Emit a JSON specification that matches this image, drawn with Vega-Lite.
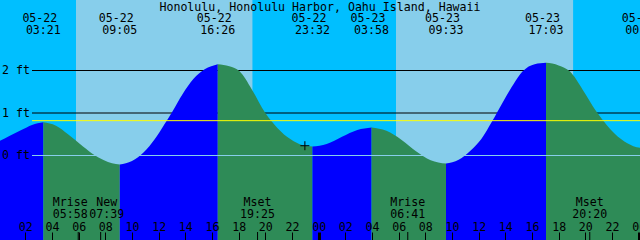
{
  "$schema": "https://vega.github.io/schema/vega-lite/v6.json",
  "width": 640,
  "height": 240,
  "padding": 0,
  "autosize": {"type": "none"},
  "background": "#00BFFF",
  "config": {"view": {"stroke": null}, "axis": {"labelOverlap": false}},
  "title": {
    "text": "Honolulu, Honolulu Harbor, Oahu Island, Hawaii",
    "orient": "top",
    "anchor": "middle",
    "frame": "group",
    "offset": -23,
    "baseline": "alphabetic",
    "font": "DejaVu Sans Mono",
    "fontSize": 11.6,
    "fontWeight": "normal",
    "color": "black"
  },
  "datasets": {
    "bands": [
      {"start": "2020-05-22T00:00:00Z", "end": "2020-05-22T05:48:00Z", "period": "night"},
      {"start": "2020-05-22T05:48:00Z", "end": "2020-05-22T19:03:00Z", "period": "day"},
      {"start": "2020-05-22T19:03:00Z", "end": "2020-05-23T05:48:00Z", "period": "night"},
      {"start": "2020-05-23T05:48:00Z", "end": "2020-05-23T19:06:00Z", "period": "day"},
      {"start": "2020-05-23T19:06:00Z", "end": "2020-05-24T00:30:00Z", "period": "night"}
    ],
    "levels": [
      {"level": 2, "kind": "grid"},
      {"level": 1, "kind": "grid"},
      {"level": 0.82, "kind": "msl"},
      {"level": 0, "kind": "datum"}
    ],
    "tide": [
      {"time": "2020-05-22T00:00:00Z", "height": 0.33, "segment": "s0", "phase": "rising"},
      {"time": "2020-05-22T00:48:00Z", "height": 0.46, "segment": "s0", "phase": "rising"},
      {"time": "2020-05-22T01:42:00Z", "height": 0.60, "segment": "s0", "phase": "rising"},
      {"time": "2020-05-22T02:30:00Z", "height": 0.72, "segment": "s0", "phase": "rising"},
      {"time": "2020-05-22T03:21:00Z", "height": 0.78, "segment": "s0", "phase": "rising"},
      {"time": "2020-05-22T03:21:00Z", "height": 0.78, "segment": "s1", "phase": "falling"},
      {"time": "2020-05-22T04:18:00Z", "height": 0.70, "segment": "s1", "phase": "falling"},
      {"time": "2020-05-22T05:12:00Z", "height": 0.50, "segment": "s1", "phase": "falling"},
      {"time": "2020-05-22T06:06:00Z", "height": 0.27, "segment": "s1", "phase": "falling"},
      {"time": "2020-05-22T07:00:00Z", "height": 0.05, "segment": "s1", "phase": "falling"},
      {"time": "2020-05-22T07:54:00Z", "height": -0.11, "segment": "s1", "phase": "falling"},
      {"time": "2020-05-22T08:30:00Z", "height": -0.18, "segment": "s1", "phase": "falling"},
      {"time": "2020-05-22T09:05:00Z", "height": -0.21, "segment": "s1", "phase": "falling"},
      {"time": "2020-05-22T09:05:00Z", "height": -0.21, "segment": "s2", "phase": "rising"},
      {"time": "2020-05-22T10:00:00Z", "height": -0.13, "segment": "s2", "phase": "rising"},
      {"time": "2020-05-22T10:54:00Z", "height": 0.08, "segment": "s2", "phase": "rising"},
      {"time": "2020-05-22T11:42:00Z", "height": 0.38, "segment": "s2", "phase": "rising"},
      {"time": "2020-05-22T12:24:00Z", "height": 0.72, "segment": "s2", "phase": "rising"},
      {"time": "2020-05-22T13:00:00Z", "height": 1.02, "segment": "s2", "phase": "rising"},
      {"time": "2020-05-22T13:48:00Z", "height": 1.45, "segment": "s2", "phase": "rising"},
      {"time": "2020-05-22T14:36:00Z", "height": 1.80, "segment": "s2", "phase": "rising"},
      {"time": "2020-05-22T15:27:00Z", "height": 2.03, "segment": "s2", "phase": "rising"},
      {"time": "2020-05-22T16:26:00Z", "height": 2.15, "segment": "s2", "phase": "rising"},
      {"time": "2020-05-22T16:26:00Z", "height": 2.15, "segment": "s3", "phase": "falling"},
      {"time": "2020-05-22T17:18:00Z", "height": 2.10, "segment": "s3", "phase": "falling"},
      {"time": "2020-05-22T18:04:00Z", "height": 1.98, "segment": "s3", "phase": "falling"},
      {"time": "2020-05-22T19:00:00Z", "height": 1.55, "segment": "s3", "phase": "falling"},
      {"time": "2020-05-22T20:00:00Z", "height": 1.00, "segment": "s3", "phase": "falling"},
      {"time": "2020-05-22T20:54:00Z", "height": 0.65, "segment": "s3", "phase": "falling"},
      {"time": "2020-05-22T21:54:00Z", "height": 0.38, "segment": "s3", "phase": "falling"},
      {"time": "2020-05-22T22:48:00Z", "height": 0.24, "segment": "s3", "phase": "falling"},
      {"time": "2020-05-22T23:32:00Z", "height": 0.21, "segment": "s3", "phase": "falling"},
      {"time": "2020-05-22T23:32:00Z", "height": 0.21, "segment": "s4", "phase": "rising"},
      {"time": "2020-05-23T00:36:00Z", "height": 0.27, "segment": "s4", "phase": "rising"},
      {"time": "2020-05-23T01:45:00Z", "height": 0.44, "segment": "s4", "phase": "rising"},
      {"time": "2020-05-23T02:54:00Z", "height": 0.60, "segment": "s4", "phase": "rising"},
      {"time": "2020-05-23T03:58:00Z", "height": 0.66, "segment": "s4", "phase": "rising"},
      {"time": "2020-05-23T03:58:00Z", "height": 0.66, "segment": "s5", "phase": "falling"},
      {"time": "2020-05-23T05:05:00Z", "height": 0.58, "segment": "s5", "phase": "falling"},
      {"time": "2020-05-23T06:12:00Z", "height": 0.37, "segment": "s5", "phase": "falling"},
      {"time": "2020-05-23T07:18:00Z", "height": 0.10, "segment": "s5", "phase": "falling"},
      {"time": "2020-05-23T08:24:00Z", "height": -0.11, "segment": "s5", "phase": "falling"},
      {"time": "2020-05-23T09:33:00Z", "height": -0.19, "segment": "s5", "phase": "falling"},
      {"time": "2020-05-23T09:33:00Z", "height": -0.19, "segment": "s6", "phase": "rising"},
      {"time": "2020-05-23T10:30:00Z", "height": -0.10, "segment": "s6", "phase": "rising"},
      {"time": "2020-05-23T11:24:00Z", "height": 0.12, "segment": "s6", "phase": "rising"},
      {"time": "2020-05-23T12:12:00Z", "height": 0.39, "segment": "s6", "phase": "rising"},
      {"time": "2020-05-23T13:00:00Z", "height": 0.80, "segment": "s6", "phase": "rising"},
      {"time": "2020-05-23T13:48:00Z", "height": 1.25, "segment": "s6", "phase": "rising"},
      {"time": "2020-05-23T14:36:00Z", "height": 1.67, "segment": "s6", "phase": "rising"},
      {"time": "2020-05-23T15:18:00Z", "height": 1.98, "segment": "s6", "phase": "rising"},
      {"time": "2020-05-23T16:12:00Z", "height": 2.15, "segment": "s6", "phase": "rising"},
      {"time": "2020-05-23T17:03:00Z", "height": 2.18, "segment": "s6", "phase": "rising"},
      {"time": "2020-05-23T17:03:00Z", "height": 2.18, "segment": "s7", "phase": "falling"},
      {"time": "2020-05-23T18:00:00Z", "height": 2.12, "segment": "s7", "phase": "falling"},
      {"time": "2020-05-23T18:50:00Z", "height": 1.98, "segment": "s7", "phase": "falling"},
      {"time": "2020-05-23T19:48:00Z", "height": 1.55, "segment": "s7", "phase": "falling"},
      {"time": "2020-05-23T20:48:00Z", "height": 1.05, "segment": "s7", "phase": "falling"},
      {"time": "2020-05-23T21:36:00Z", "height": 0.72, "segment": "s7", "phase": "falling"},
      {"time": "2020-05-23T22:42:00Z", "height": 0.38, "segment": "s7", "phase": "falling"},
      {"time": "2020-05-23T23:36:00Z", "height": 0.22, "segment": "s7", "phase": "falling"},
      {"time": "2020-05-24T00:18:00Z", "height": 0.17, "segment": "s7", "phase": "falling"}
    ],
    "events": [
      {"time": "2020-05-22T03:21:00Z", "date": "05-22", "clock": "03:21"},
      {"time": "2020-05-22T09:05:00Z", "date": "05-22", "clock": "09:05"},
      {"time": "2020-05-22T16:26:00Z", "date": "05-22", "clock": "16:26"},
      {"time": "2020-05-22T23:32:00Z", "date": "05-22", "clock": "23:32"},
      {"time": "2020-05-23T03:58:00Z", "date": "05-23", "clock": "03:58"},
      {"time": "2020-05-23T09:33:00Z", "date": "05-23", "clock": "09:33"},
      {"time": "2020-05-23T17:03:00Z", "date": "05-23", "clock": "17:03"},
      {"time": "2020-05-24T00:18:00Z", "date": "05-24", "clock": "00:18"}
    ],
    "moon": [
      {"time": "2020-05-22T05:58:00Z", "event": "Mrise", "clock": "05:58"},
      {"time": "2020-05-22T07:39:00Z", "event": "New", "clock": "07:39"},
      {"time": "2020-05-22T19:25:00Z", "event": "Mset", "clock": "19:25"},
      {"time": "2020-05-23T06:41:00Z", "event": "Mrise", "clock": "06:41"},
      {"time": "2020-05-23T20:20:00Z", "event": "Mset", "clock": "20:20"}
    ],
    "marker": [
      {"time": "2020-05-22T22:58:00Z", "height": 0.23}
    ]
  },
  "layer": [
    {
      "data": {"name": "bands"},
      "mark": {"type": "rect"},
      "encoding": {
        "x": {
          "field": "start", "type": "temporal",
          "scale": {"type": "utc", "nice": false, "domain": [
            {"year": 2020, "month": 5, "date": 22, "hours": 0, "minutes": 6, "utc": true},
            {"year": 2020, "month": 5, "date": 24, "hours": 0, "minutes": 6, "utc": true}
          ]},
          "axis": {
            "orient": "bottom",
            "title": null,
            "tickCount": 100,
            "values": [
              {"year": 2020, "month": 5, "date": 22, "hours": 2, "utc": true},
              {"year": 2020, "month": 5, "date": 22, "hours": 4, "utc": true},
              {"year": 2020, "month": 5, "date": 22, "hours": 6, "utc": true},
              {"year": 2020, "month": 5, "date": 22, "hours": 8, "utc": true},
              {"year": 2020, "month": 5, "date": 22, "hours": 10, "utc": true},
              {"year": 2020, "month": 5, "date": 22, "hours": 12, "utc": true},
              {"year": 2020, "month": 5, "date": 22, "hours": 14, "utc": true},
              {"year": 2020, "month": 5, "date": 22, "hours": 16, "utc": true},
              {"year": 2020, "month": 5, "date": 22, "hours": 18, "utc": true},
              {"year": 2020, "month": 5, "date": 22, "hours": 20, "utc": true},
              {"year": 2020, "month": 5, "date": 22, "hours": 22, "utc": true},
              {"year": 2020, "month": 5, "date": 23, "hours": 0, "utc": true},
              {"year": 2020, "month": 5, "date": 23, "hours": 2, "utc": true},
              {"year": 2020, "month": 5, "date": 23, "hours": 4, "utc": true},
              {"year": 2020, "month": 5, "date": 23, "hours": 6, "utc": true},
              {"year": 2020, "month": 5, "date": 23, "hours": 8, "utc": true},
              {"year": 2020, "month": 5, "date": 23, "hours": 10, "utc": true},
              {"year": 2020, "month": 5, "date": 23, "hours": 12, "utc": true},
              {"year": 2020, "month": 5, "date": 23, "hours": 14, "utc": true},
              {"year": 2020, "month": 5, "date": 23, "hours": 16, "utc": true},
              {"year": 2020, "month": 5, "date": 23, "hours": 18, "utc": true},
              {"year": 2020, "month": 5, "date": 23, "hours": 20, "utc": true},
              {"year": 2020, "month": 5, "date": 23, "hours": 22, "utc": true},
              {"year": 2020, "month": 5, "date": 24, "hours": 0, "utc": true}
            ],
            "format": "%H",
            "domain": false,
            "grid": false,
            "ticks": true,
            "tickSize": -8,
            "tickColor": "black",
            "tickWidth": {"condition": {"test": "utchours(datum.value) === 0", "value": 3}, "value": 1},
            "labelPadding": -1.5,
            "labelBaseline": "alphabetic",
            "labelAlign": "center",
            "labelFont": "DejaVu Sans Mono",
            "labelFontSize": 11.6,
            "labelColor": "black",
            "labelOverlap": false,
            "labelFlush": false,
            "labelBound": false,
            "zindex": 1
          }
        },
        "x2": {"field": "end"},
        "color": {
          "field": "period", "type": "nominal",
          "scale": {"domain": ["night", "day"], "range": ["#00BFFF", "#87CEEB"]},
          "legend": null
        }
      }
    },
    {
      "data": {"name": "levels"},
      "transform": [{"filter": "datum.kind === 'grid'"}],
      "mark": {"type": "rule", "color": "black", "strokeWidth": 1, "xOffset": 32},
      "encoding": {
        "x": {"datum": {"year": 2020, "month": 5, "date": 22, "hours": 0, "minutes": 6, "utc": true}, "type": "temporal"},
        "x2": {"datum": {"year": 2020, "month": 5, "date": 24, "hours": 0, "minutes": 6, "utc": true}},
        "y": {"field": "level", "type": "quantitative"}
      }
    },
    {
      "data": {"name": "tide"},
      "mark": {"type": "area", "interpolate": "monotone", "opacity": 1},
      "encoding": {
        "x": {"field": "time", "type": "temporal"},
        "y": {
          "field": "height", "type": "quantitative",
          "scale": {"domain": [-1.988, 3.659], "nice": false, "zero": false},
          "axis": {
            "orient": "left",
            "title": null,
            "values": [0, 1, 2],
            "labelExpr": "datum.value + ' ft'",
            "domain": false,
            "grid": false,
            "ticks": true,
            "tickSize": 0,
            "tickOpacity": 0,
            "labelPadding": -1.5,
            "labelAlign": "left",
            "labelBaseline": "middle",
            "labelFont": "DejaVu Sans Mono",
            "labelFontSize": 11.6,
            "labelColor": "black",
            "labelOverlap": false,
            "labelFlush": false,
            "labelBound": false,
            "zindex": 1
          }
        },
        "y2": {"datum": -1.988},
        "color": {
          "field": "phase", "type": "nominal",
          "scale": {"domain": ["rising", "falling"], "range": ["#0000FF", "#2E8B57"]},
          "legend": null
        },
        "detail": {"field": "segment"}
      }
    },
    {
      "data": {"name": "levels"},
      "transform": [{"filter": "datum.kind === 'msl'"}],
      "mark": {"type": "rule", "color": "#FFFF00", "strokeWidth": 1, "xOffset": 32},
      "encoding": {
        "x": {"datum": {"year": 2020, "month": 5, "date": 22, "hours": 0, "minutes": 6, "utc": true}, "type": "temporal"},
        "x2": {"datum": {"year": 2020, "month": 5, "date": 24, "hours": 0, "minutes": 6, "utc": true}},
        "y": {"field": "level", "type": "quantitative"}
      }
    },
    {
      "data": {"name": "levels"},
      "transform": [{"filter": "datum.kind === 'datum'"}],
      "mark": {"type": "rule", "color": "#87CEEB", "strokeWidth": 1, "xOffset": 32},
      "encoding": {
        "x": {"datum": {"year": 2020, "month": 5, "date": 22, "hours": 0, "minutes": 6, "utc": true}, "type": "temporal"},
        "x2": {"datum": {"year": 2020, "month": 5, "date": 24, "hours": 0, "minutes": 6, "utc": true}},
        "y": {"field": "level", "type": "quantitative"}
      }
    },
    {
      "data": {"name": "moon"},
      "mark": {"type": "rule", "color": "black", "strokeWidth": 1},
      "encoding": {
        "x": {"field": "time", "type": "temporal"},
        "y": {"datum": -1.988, "type": "quantitative"},
        "y2": {"datum": -1.8}
      }
    },
    {
      "data": {"name": "marker"},
      "mark": {"type": "point", "shape": "M-1,0L1,0M0,-1L0,1", "size": 81, "filled": false, "stroke": "black", "strokeWidth": 1, "opacity": 1},
      "encoding": {
        "x": {"field": "time", "type": "temporal"},
        "y": {"field": "height", "type": "quantitative"}
      }
    },
    {
      "data": {"name": "events"},
      "mark": {"type": "text", "font": "DejaVu Sans Mono", "fontSize": 11.6, "color": "black", "baseline": "alphabetic", "align": "center", "dx": -3.5},
      "encoding": {
        "x": {"field": "time", "type": "temporal"},
        "y": {"datum": 3.148, "type": "quantitative"},
        "text": {"field": "date"}
      }
    },
    {
      "data": {"name": "events"},
      "mark": {"type": "text", "font": "DejaVu Sans Mono", "fontSize": 11.6, "color": "black", "baseline": "alphabetic", "align": "center"},
      "encoding": {
        "x": {"field": "time", "type": "temporal"},
        "y": {"datum": 2.852, "type": "quantitative"},
        "text": {"field": "clock"}
      }
    },
    {
      "data": {"name": "moon"},
      "transform": [{"filter": "datum.clock !== '05:58' && datum.clock !== '07:39'"}],
      "mark": {"type": "text", "font": "DejaVu Sans Mono", "fontSize": 11.6, "color": "black", "baseline": "alphabetic", "align": "center"},
      "encoding": {
        "x": {"field": "time", "type": "temporal"},
        "y": {"datum": -1.188, "type": "quantitative"},
        "text": {"field": "event"}
      }
    },
    {
      "data": {"name": "moon"},
      "transform": [{"filter": "datum.clock !== '05:58' && datum.clock !== '07:39'"}],
      "mark": {"type": "text", "font": "DejaVu Sans Mono", "fontSize": 11.6, "color": "black", "baseline": "alphabetic", "align": "center"},
      "encoding": {
        "x": {"field": "time", "type": "temporal"},
        "y": {"datum": -1.478, "type": "quantitative"},
        "text": {"field": "clock"}
      }
    },
    {
      "data": {"name": "moon"},
      "transform": [{"filter": "datum.clock === '05:58'"}],
      "mark": {"type": "text", "font": "DejaVu Sans Mono", "fontSize": 11.6, "color": "black", "baseline": "alphabetic", "align": "center", "dx": -8},
      "encoding": {
        "x": {"field": "time", "type": "temporal"},
        "y": {"datum": -1.188, "type": "quantitative"},
        "text": {"field": "event"}
      }
    },
    {
      "data": {"name": "moon"},
      "transform": [{"filter": "datum.clock === '05:58'"}],
      "mark": {"type": "text", "font": "DejaVu Sans Mono", "fontSize": 11.6, "color": "black", "baseline": "alphabetic", "align": "center", "dx": -8},
      "encoding": {
        "x": {"field": "time", "type": "temporal"},
        "y": {"datum": -1.478, "type": "quantitative"},
        "text": {"field": "clock"}
      }
    },
    {
      "data": {"name": "moon"},
      "transform": [{"filter": "datum.clock === '07:39'"}],
      "mark": {"type": "text", "font": "DejaVu Sans Mono", "fontSize": 11.6, "color": "black", "baseline": "alphabetic", "align": "center", "dx": 6},
      "encoding": {
        "x": {"field": "time", "type": "temporal"},
        "y": {"datum": -1.188, "type": "quantitative"},
        "text": {"field": "event"}
      }
    },
    {
      "data": {"name": "moon"},
      "transform": [{"filter": "datum.clock === '07:39'"}],
      "mark": {"type": "text", "font": "DejaVu Sans Mono", "fontSize": 11.6, "color": "black", "baseline": "alphabetic", "align": "center", "dx": 6},
      "encoding": {
        "x": {"field": "time", "type": "temporal"},
        "y": {"datum": -1.478, "type": "quantitative"},
        "text": {"field": "clock"}
      }
    }
  ],
  "resolve": {"scale": {"color": "independent"}}
}
